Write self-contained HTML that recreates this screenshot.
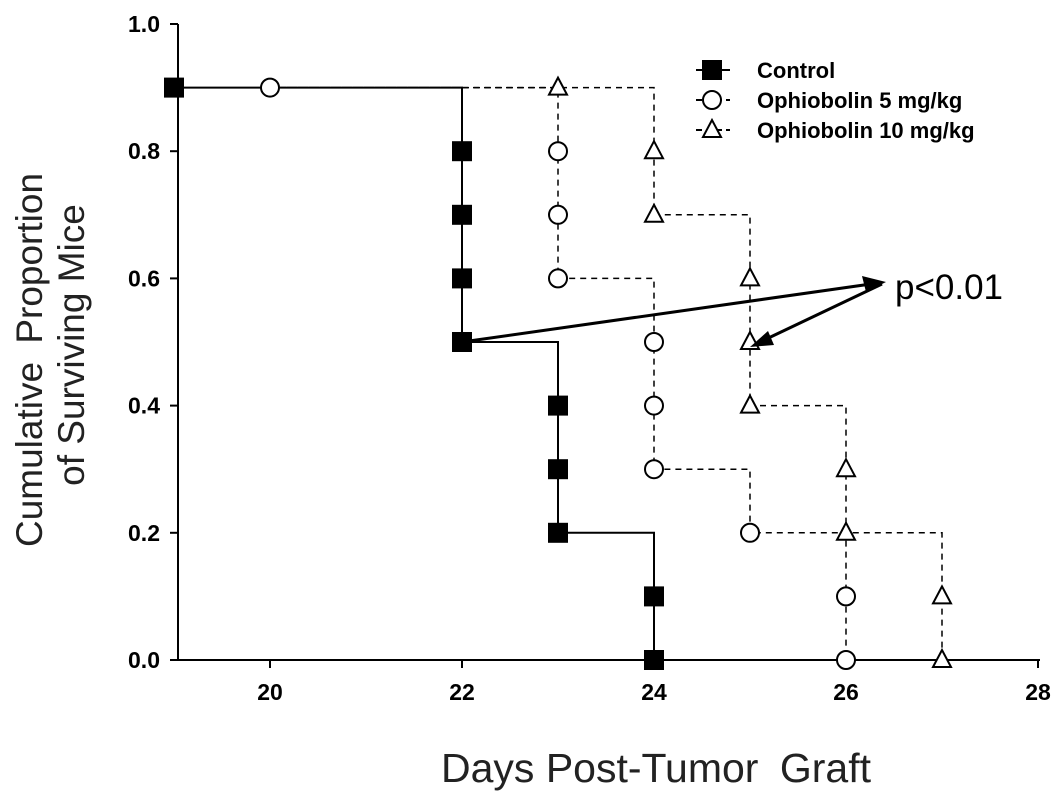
<!DOCTYPE html>
<html><head><meta charset="utf-8"><style>
body{margin:0;background:#fff}
svg text{font-family:"Liberation Sans",Arial,sans-serif}
</style></head><body>
<svg id="chart" width="1063" height="803">
<g id="axes"></g>
<g id="lines"></g>
<g id="marks"></g>
<g>
<line x1="462" y1="342" x2="878" y2="283" stroke="#000" stroke-width="3"/>
<polygon points="886,282 862,276 866,292" fill="#000"/>
<line x1="882" y1="284" x2="758" y2="343" stroke="#000" stroke-width="3"/>
<polygon points="750,347 768,331 774,345" fill="#000"/>
<text x="895" y="299" font-size="35">p&lt;0.01</text>
</g>
<g id="legend"></g>
<text transform="translate(42,360) rotate(-90)" text-anchor="middle" font-size="37" fill="#222" word-spacing="8">Cumulative Proportion</text>
<text transform="translate(84,345) rotate(-90)" text-anchor="middle" font-size="37" fill="#222">of Surviving Mice</text>
<text x="656" y="782" text-anchor="middle" font-size="41" fill="#222">Days Post-Tumor <tspan dx="10">Graft</tspan></text>
</svg>
<script>
const xTicks=[20,22,24,26,28];
const yTicks=[0.0,0.2,0.4,0.6,0.8,1.0];
const seriesNames=["Control","Ophiobolin 5 mg/kg","Ophiobolin 10 mg/kg"];
const controlX=[19,22,22,22,22,23,23,23,24,24];
const controlY=[0.9,0.8,0.7,0.6,0.5,0.4,0.3,0.2,0.1,0.0];
const oph5X=[20,23,23,23,24,24,24,25,26,26];
const oph5Y=[0.9,0.8,0.7,0.6,0.5,0.4,0.3,0.2,0.1,0.0];
const oph10X=[23,24,24,25,25,25,26,26,27,27];
const oph10Y=[0.9,0.8,0.7,0.6,0.5,0.4,0.3,0.2,0.1,0.0];
const NS="http://www.w3.org/2000/svg";
const sx=v=>270+(v-20)*96, sy=v=>660-v*636;
function mk(tag,attrs,parent){const e=document.createElementNS(NS,tag);for(const k in attrs)e.setAttribute(k,attrs[k]);parent.appendChild(e);return e;}
const ax=document.getElementById('axes');
const xl=mk('line',{x1:178,y1:660,x2:1040,y2:660,stroke:'#000','stroke-width':2},ax);


const yl=mk('line',{x1:178,y1:24,x2:178,y2:660,stroke:'#000','stroke-width':2},ax);


xTicks.forEach(t=>{mk('line',{x1:sx(t),y1:660,x2:sx(t),y2:668,stroke:'#000','stroke-width':2},ax);
 const tx=mk('text',{x:sx(t),y:700,'text-anchor':'middle','font-size':23,'font-weight':'bold'},ax);tx.textContent=t;
 
 });
yTicks.forEach(t=>{mk('line',{x1:170,y1:sy(t),x2:178,y2:sy(t),stroke:'#000','stroke-width':2},ax);
 const tx=mk('text',{x:160,y:sy(t)+8,'text-anchor':'end','font-size':23,'font-weight':'bold'},ax);tx.textContent=t.toFixed(1);
 
 });
function stepPath(X,Y,startX){let d='M'+sx(startX)+','+sy(Y[0]);
 for(let i=0;i<X.length;i++){d+=' L'+sx(X[i])+','+sy(i?Y[i-1]:Y[0])+' L'+sx(X[i])+','+sy(Y[i]);}return d;}
const L=document.getElementById('lines');
const p1=mk('path',{d:stepPath(controlX,controlY,19),fill:'none',stroke:'#000','stroke-width':2},L);


const p2=mk('path',{d:stepPath(oph5X,oph5Y,22),fill:'none',stroke:'#000','stroke-width':1.5,'stroke-dasharray':'6,5'},L);


const p3=mk('path',{d:stepPath(oph10X,oph10Y,22),fill:'none',stroke:'#000','stroke-width':1.5,'stroke-dasharray':'6,5'},L);


const M=document.getElementById('marks');
function marker(type,x,y,parent){let e;
 if(type===0)e=mk('rect',{x:x-10,y:y-10,width:20,height:20,fill:'#000'},parent);
 else if(type===1)e=mk('circle',{cx:x,cy:y,r:9,fill:'#fff',stroke:'#000','stroke-width':2},parent);
 else e=mk('polygon',{points:`${x},${y-10} ${x-9},${y+7} ${x+9},${y+7}`,fill:'#fff',stroke:'#000','stroke-width':2},parent);
 return e;}
[[controlX,controlY],[oph5X,oph5Y],[oph10X,oph10Y]].forEach((s,k)=>{s[0].forEach((xv,i)=>{
 const e=marker(k,sx(xv),sy(s[1][i]),M);
 
 });});
const G=document.getElementById('legend');
seriesNames.forEach((n,i)=>{const y=70+i*30;
 mk('line',{x1:696,y1:y,x2:730,y2:y,stroke:'#000','stroke-width':2,'stroke-dasharray':i?'6,4':''},G);
 const m=marker(i,712,y,G);
 
 
 const t=mk('text',{x:757,y:y+8,'font-size':22,'font-weight':'bold'},G);t.textContent=n;
 
 });
</script>
</body></html>
